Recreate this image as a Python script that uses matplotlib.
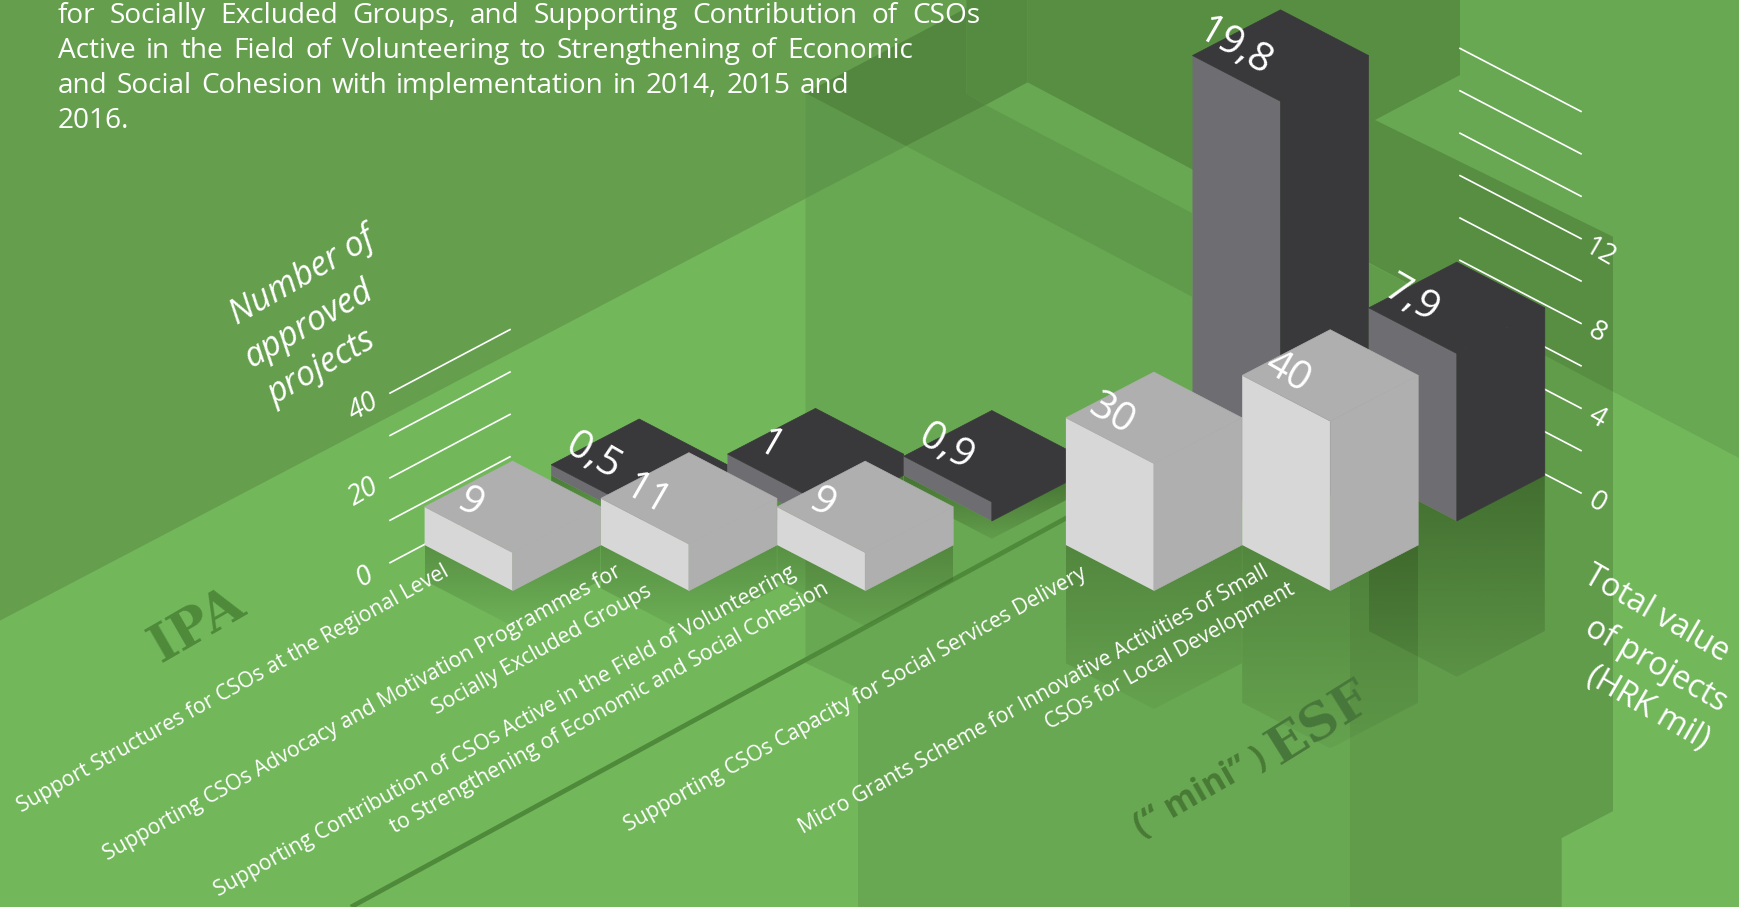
import numpy as np
import matplotlib
matplotlib.use("Agg")
import matplotlib.pyplot as plt
from matplotlib.patches import Polygon

# ---------- data ----------
programmes = ["IPA", "IPA", "IPA", "ESF", "ESF"]
approved_projects = [9, 11, 9, 30, 40]
total_value_hrk_mil = [0.5, 1, 0.9, 19.8, 7.9]
left_ticks = [0, 10, 20, 30, 40]
left_tick_labels = ["0", "", "20", "", "40"]
right_ticks = [0, 2, 4, 6, 8, 10, 12, 14, 16, 18]
right_tick_labels = ["0", "", "4", "", "8", "", "12", "", "", ""]
paragraph = [
    "for Socially Excluded Groups, and Supporting Contribution of CSOs",
    "Active in the Field of Volunteering to Strengthening of Economic",
    "and Social Cohesion with implementation in 2014, 2015 and",
    "2016.",
]
category_lines = [
    ["Support Structures for CSOs at the Regional Level"],
    ["Supporting CSOs Advocacy and Motivation Programmes for", "Socially Excluded Groups"],
    ["Supporting Contribution of CSOs Active in the Field of Volunteering",
     "to Strengthening of Economic and Social Cohesion"],
    ["Supporting CSOs Capacity for Social Services Delivery"],
    ["Micro Grants Scheme for Innovative Activities of Small", "CSOs for Local Development"],
]

# ---------- layout of the isometric scene (pixels) ----------
W, H = 1739, 907
HALF = 88.0
DY = 45.7
FRONT_X0, STEP, GROUP_GAP = 512.6, 176.3, 112.4
LIGHT_Y = 590.7
DARK_DX, DARK_Y = 126.6, 521.0
SCALE_COUNT = 4.24
SCALE_VALUE = 21.2
SHADOW_FACTOR = 0.93
FONT = "Open Sans"
WHITE = "#ffffff"

plt.rcParams["font.family"] = [FONT, "DejaVu Sans"]
fig = plt.figure(figsize=(W / 100, H / 100), dpi=100)
ax = fig.add_axes([0, 0, 1, 1])
ax.set_xlim(0, W)
ax.set_ylim(H, 0)
ax.set_autoscale_on(False)
ax.axis("off")


def poly(pts, color, z=1, edge=False):
    ax.add_patch(Polygon(pts, closed=True, facecolor=color, edgecolor=color if edge else "none",
                         linewidth=0.5 if edge else 0, zorder=z))


# ---------- background planes ----------
poly([(0, 0), (W, 0), (W, H), (0, H)], "#72B85B", 0.1)
poly([(805.5, 0), (W, 0), (W, 458), (1613, 391.7), (1613, 811), (1561.5, 838), (1561.5, H),
      (858, H), (858, 688), (805.5, 663)], "#69A852", 0.2)
poly([(1350, 253), (1368, 263), (1613, 391.7), (1613, 811), (1561.5, 838), (1561.5, H), (1350, H)],
     "#619C4B", 0.3)
poly([(0, 0), (1027.5, 0), (1027.5, 82.3), (0, 620.6)], "#659F4E", 0.4)
poly([(906, 146), (985.6, 105), (1192, 213), (1192, 296.7)], "#609B4B", 0.5)
poly([(1027.5, 0), (1460, 0), (1460, 75), (1375, 120), (1613, 236.7), (1613, 391.7), (1027.5, 82.3)],
     "#578E42", 0.5)
poly([(805.5, 93), (906, 146), (805.5, 198)], "#5E984A", 0.6)
poly([(805.5, 93), (906, 146), (985.6, 105), (966.5, 93.3), (966.5, 8)], "#538740", 0.6)
poly([(966.5, 0), (1027.5, 0), (1027.5, 82.3), (985.6, 105), (966.5, 93.3)], "#558B41", 0.6)
ax.plot([351, 1070], [907, 516], color="#4F8A3B", lw=3.4, solid_capstyle="butt", zorder=0.7)

# ---------- axes ticks ----------
for v, lab in zip(left_ticks, left_tick_labels):
    y0 = 562.7 - v * SCALE_COUNT
    ax.plot([390, 510], [y0, y0 - 63.5], color=WHITE, lw=1.2, zorder=1.5)
    if lab:
        ax.text(364, y0 + 14, lab, color=WHITE, fontsize=20, style="italic", rotation=30,
                rotation_mode="anchor", ha="center", va="center", zorder=6)
for v, lab in zip(right_ticks, right_tick_labels):
    y1 = 493 - v * SCALE_VALUE
    ax.plot([1460, 1581], [y1 - 63, y1], color=WHITE, lw=1.2, zorder=1.5)
    if lab:
        ax.text(1597 + (3 if len(lab) > 1 else 0), y1 + (14 if len(lab) > 1 else 10), lab, color=WHITE,
                fontsize=20, rotation=-30, rotation_mode="anchor", ha="center", va="center", zorder=6)


def shadow(xc, yf, h, top_alpha, bot_alpha, z):
    xl, xr, yl = xc - HALF, xc + HALF, yf - DY
    pts = [(xl, yl), (xc, yf), (xr, yl), (xr, yl + h), (xc, yf + h), (xl, yl + h)]
    patch = Polygon(pts, closed=True, facecolor="none", edgecolor="none", zorder=z)
    ax.add_patch(patch)
    alpha = np.linspace(top_alpha, bot_alpha, 128)
    img = np.zeros((128, 1, 4))
    img[..., 0], img[..., 1], img[..., 2] = 46 / 255, 80 / 255, 30 / 255
    img[:, 0, 3] = alpha
    im = ax.imshow(img, extent=(xl, xr, yf + h, yl), aspect="auto", origin="upper",
                   interpolation="bilinear", zorder=z)
    im.set_clip_path(patch)


def bar(xc, yf, h, left_c, right_c, top_c, z):
    xl, xr = xc - HALF, xc + HALF
    yl = yf - DY
    poly([(xl, yl), (xc, yf), (xc, yf - h), (xl, yl - h)], left_c, z)
    poly([(xr, yl), (xc, yf), (xc, yf - h), (xr, yl - h)], right_c, z + 0.001, edge=True)
    poly([(xl, yl - h), (xc, yf - h), (xr, yl - h), (xc, yf - DY * 2 - h)], top_c, z + 0.002, edge=True)
    return xl, yl - h


centres = []
for i, group in enumerate(programmes):
    gap = GROUP_GAP if group == "ESF" else 0
    centres.append(FRONT_X0 + STEP * i + gap)

# shadows first, then dark row, then light row
for xc, v in zip(centres, total_value_hrk_mil):
    if v < 10:
        shadow(xc + DARK_DX, DARK_Y, v * SCALE_VALUE * SHADOW_FACTOR, 0.6, 0.13, 1.8)
for xc, n in zip(centres, approved_projects):
    shadow(xc, LIGHT_Y, n * SCALE_COUNT * SHADOW_FACTOR, 0.38, 0.07, 1.9)

for i, (xc, v) in enumerate(zip(centres, total_value_hrk_mil)):
    tl = bar(xc + DARK_DX, DARK_Y, v * SCALE_VALUE, "#6E6D72", "#39383B", "#39383B", 2 + i * 0.01)
    ax.text(tl[0] + 42, tl[1] - 8, f"{v:g}".replace(".", ","), color=WHITE, fontsize=29, rotation=-30,
            rotation_mode="anchor", ha="center", va="center", zorder=5)
for i, (xc, n) in enumerate(zip(centres, approved_projects)):
    tl = bar(xc, LIGHT_Y, n * SCALE_COUNT, "#D7D7D7", "#AFAFAF", "#AFAFAF", 3 + i * 0.01)
    ax.text(tl[0] + 45, tl[1] - 3, str(n), color=WHITE, fontsize=29, rotation=-30,
            rotation_mode="anchor", ha="center", va="center", zorder=5)

# ---------- paragraph (first three lines are justified to measured widths) ----------
renderer = fig.canvas.get_renderer()
PARA_X, PARA_SIZE = 58, 20.2
baselines = [22.7, 58, 93, 128]
line_ends = [980, 913, 849, None]
for line, yb, end in zip(paragraph, baselines, line_ends):
    if end is None:
        ax.text(PARA_X, yb, line, color=WHITE, fontsize=PARA_SIZE, va="baseline", zorder=6)
        continue
    words = line.split(" ")
    items = [ax.text(0, yb, w, color=WHITE, fontsize=PARA_SIZE, va="baseline", zorder=6) for w in words]
    widths = [t.get_window_extent(renderer).width for t in items]
    space = (end - PARA_X - sum(widths)) / (len(words) - 1)
    x = PARA_X
    for t, wd in zip(items, widths):
        t.set_x(x)
        x += wd + space

# ---------- category labels ----------
label_centres = [
    [(233, 689)],
    [(362, 713), (542, 650)],
    [(505, 731), (610, 708)],
    [(855, 700)],
    [(1034, 700), (1170, 657)],
]
for lines, pos in zip(category_lines, label_centres):
    for line, (cx, cy) in zip(lines, pos):
        ax.text(cx, cy, line, color=WHITE, fontsize=15.3, rotation=29, rotation_mode="anchor",
                ha="center", va="center", zorder=6)

# ---------- axis titles ----------
for line, (cx, cy) in zip(["Number of", "approved", "projects"], [(302, 276), (309, 324), (322, 368)]):
    ax.text(cx, cy, line, color=WHITE, fontsize=24.5, style="italic", rotation=30, rotation_mode="anchor",
            ha="center", va="center", zorder=6)
for line, (cx, cy) in zip(["Total value", "of projects", "(HRK mil)"], [(1656, 614), (1656, 665), (1648, 708)]):
    ax.text(cx, cy, line, color=WHITE, fontsize=23, rotation=-30, rotation_mode="anchor",
            ha="center", va="center", zorder=6)

# ---------- programme names ----------
ax.text(197, 625, "IPA", color="#4F8A3B", fontsize=38, family="DejaVu Serif", weight="bold", rotation=30,
        rotation_mode="anchor", ha="center", va="center", zorder=6)
ax.text(1320, 724, "ESF", color="#47773A", fontsize=37, family="DejaVu Serif", weight="bold", rotation=32,
        rotation_mode="anchor", ha="center", va="center", zorder=6)
ax.text(1200, 792, "(“ mini” )", color="#487A35", fontsize=24.5, weight="bold", rotation=30,
        rotation_mode="anchor", ha="center", va="center", zorder=6)

fig.savefig("out.png", dpi=100)
